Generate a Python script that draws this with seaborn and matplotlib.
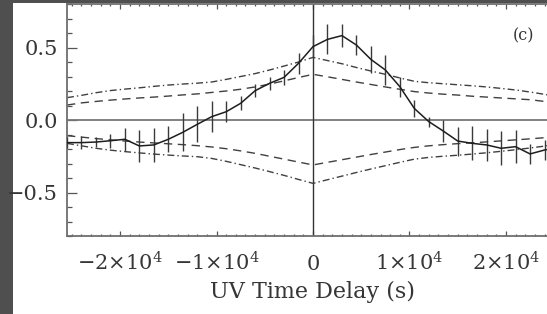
import numpy as np
import pandas as pd
import matplotlib
matplotlib.use("Agg")
import matplotlib.pyplot as plt
from matplotlib.patches import Rectangle
import seaborn as sns

# ---------------- data ----------------
lag_index = list(range(-17, 18))           # lag steps of 1500 s
lag_step = 1500
ccf = [-0.156, -0.156, -0.152, -0.143, -0.133, -0.179, -0.172, -0.133, -0.085, -0.03,
       0.023, 0.057, 0.115, 0.202, 0.253, 0.294, 0.391, 0.506, 0.556, 0.582,
       0.517, 0.418, 0.345, 0.23, 0.08, -0.011, -0.076, -0.145, -0.161, -0.172,
       -0.195, -0.184, -0.234, -0.207, -0.19]
ccf_err = [0.04, 0.046, 0.037, 0.048, 0.08, 0.11, 0.12, 0.09, 0.13, 0.125,
           0.106, 0.074, 0.048, 0.046, 0.044, 0.054, 0.072, 0.08, 0.104, 0.078,
           0.069, 0.094, 0.103, 0.069, 0.057, 0.035, 0.074, 0.1, 0.117, 0.11,
           0.118, 0.115, 0.067, 0.07, 0.07]
upper_dashed = [0.103, 0.118, 0.128, 0.137, 0.145, 0.152, 0.158, 0.165, 0.173, 0.18,
                0.19, 0.2, 0.212, 0.228, 0.248, 0.27, 0.293, 0.315, 0.298, 0.28,
                0.262, 0.245, 0.228, 0.212, 0.196, 0.186, 0.178, 0.172, 0.164, 0.158,
                0.152, 0.146, 0.14, 0.128, 0.118]
upper_dashdot = [0.154, 0.17, 0.188, 0.203, 0.213, 0.222, 0.232, 0.241, 0.248, 0.254,
                 0.262, 0.28, 0.3, 0.32, 0.345, 0.372, 0.4, 0.432, 0.41, 0.388,
                 0.362, 0.338, 0.315, 0.29, 0.267, 0.257, 0.25, 0.243, 0.236, 0.228,
                 0.218, 0.207, 0.193, 0.177, 0.16]
lower_dashed = [-0.108, -0.118, -0.128, -0.137, -0.145, -0.152, -0.158, -0.164, -0.17, -0.177,
                -0.186, -0.198, -0.213, -0.23, -0.25, -0.27, -0.29, -0.31, -0.292, -0.274,
                -0.256, -0.238, -0.221, -0.204, -0.189, -0.178, -0.17, -0.163, -0.157, -0.151,
                -0.144, -0.137, -0.13, -0.122, -0.112]
lower_dashdot = [-0.161, -0.178, -0.195, -0.208, -0.218, -0.227, -0.235, -0.242, -0.248, -0.253,
                 -0.265, -0.285, -0.308, -0.331, -0.356, -0.382, -0.41, -0.437, -0.412, -0.387,
                 -0.362, -0.338, -0.315, -0.292, -0.27, -0.258, -0.25, -0.243, -0.235, -0.226,
                 -0.216, -0.205, -0.193, -0.18, -0.165]

xtick_values = [-20000, -10000, 0, 10000, 20000]
xtick_labels = [r'$-2{\times}10^{4}$', r'$-1{\times}10^{4}$', r'$0$',
                r'$1{\times}10^{4}$', r'$2{\times}10^{4}$']
ytick_values = [-0.5, 0.0, 0.5]
ytick_labels = ['\u22120.5', '0.0', '0.5']
xlabel = 'UV Time Delay (s)'
panel_label = '(c)'

# ---------------- style ----------------
sns.set_style('ticks')
plt.rcParams['font.family'] = ['DejaVu Serif']
plt.rcParams['mathtext.fontset'] = 'dejavuserif'
plt.rcParams['lines.scale_dashes'] = False

text_col = '#363636'
df = pd.DataFrame({
    'lag': np.array(lag_index) * lag_step,
    'ccf': ccf, 'err': ccf_err,
    'ud': upper_dashed, 'udd': upper_dashdot,
    'ld': lower_dashed, 'ldd': lower_dashdot,
})

W, H = 547, 314
fig = plt.figure(figsize=(W / 100, H / 100), dpi=100, facecolor='#4f4f4f')
fig.patches.append(Rectangle((13 / W, 0), 1, 311 / H, transform=fig.transFigure,
                             facecolor='white', edgecolor='none', zorder=-5))

ax_left, ax_right, ax_top, ax_bot = 67, 559, 4, 236
ax = fig.add_axes([ax_left / W, (H - ax_bot) / H, (ax_right - ax_left) / W, (ax_bot - ax_top) / H])
ax.set_facecolor('white')

# zero lines
ax.axhline(0, color='#777777', lw=1.3, zorder=1)
ax.axvline(0, color='#333333', lw=1.0, zorder=1)

dash = (0, (6, 4))
dashdot = (0, (5, 2.2, 1, 2.2))
lc = '#404040'
sns.lineplot(data=df, x='lag', y='ud', ax=ax, color=lc, lw=1.0, linestyle=dash)
sns.lineplot(data=df, x='lag', y='ld', ax=ax, color=lc, lw=1.0, linestyle=dash)
sns.lineplot(data=df, x='lag', y='udd', ax=ax, color=lc, lw=1.0, linestyle=dashdot)
sns.lineplot(data=df, x='lag', y='ldd', ax=ax, color=lc, lw=1.0, linestyle=dashdot)

ax.errorbar(df['lag'], df['ccf'], yerr=df['err'], fmt='none', ecolor='#3a3a3a',
            elinewidth=1.0, capsize=0, zorder=3)
sns.lineplot(data=df, x='lag', y='ccf', ax=ax, color='#1e1e1e', lw=1.1, zorder=4)

ax.set_xlim(-25500, 25500)
ax.set_ylim(-0.8, 0.8)

ax.set_xticks(xtick_values)
ax.set_xticklabels(xtick_labels)
ax.set_xticks(np.arange(-25000, 25001, 1000), minor=True)
ax.set_yticks(ytick_values)
ax.set_yticklabels(ytick_labels)
ax.set_yticks(np.arange(-0.8, 0.81, 0.1), minor=True)

ax.tick_params(which='both', direction='in', top=True, right=True, colors='#555555', width=0.9,
               labelcolor=text_col)
ax.tick_params(axis='x', which='major', length=3.3, labelsize=15, pad=24.5)
ax.tick_params(axis='x', which='minor', length=1.5)
ax.tick_params(axis='y', which='major', length=7.2, labelsize=15, pad=6.5)
ax.tick_params(axis='y', which='minor', length=3.6)
for lbl in ax.get_xticklabels():
    lbl.set_verticalalignment('baseline')

for sp in ax.spines.values():
    sp.set_color('#6e6e6e')
    sp.set_linewidth(1.3)

ax.set_ylabel('')
ax.set_xlabel(xlabel, fontsize=16, color=text_col)
ax.xaxis.label.set_verticalalignment('baseline')
ax.xaxis.set_label_coords(0.5, (ax_bot - 298) / (ax_bot - ax_top))

ax.text((524 - ax_left) / (ax_right - ax_left), (ax_bot - 36) / (ax_bot - ax_top), panel_label,
        transform=ax.transAxes, ha='center', va='center', fontsize=11.5, color=text_col)

fig.savefig('out.png', dpi=100, facecolor=fig.get_facecolor())
